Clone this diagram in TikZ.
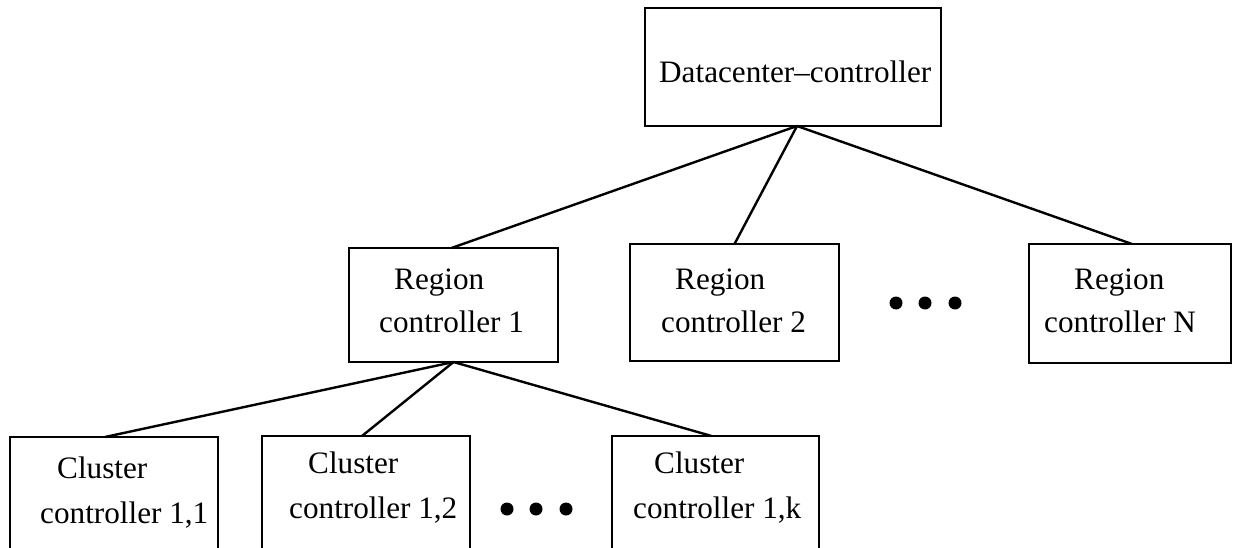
\documentclass[tikz,border=0pt]{standalone}
\usepackage{fontspec}
\setmainfont{Liberation Serif}
\tikzset{
  ctrl/.style={draw, line width=2.6pt, inner sep=0pt, outer sep=0pt, anchor=north west},
  lbl/.style={inner sep=0pt, anchor=base west, font=\fontsize{31.2}{36}\selectfont},
  link/.style={line width=2.4pt},
}
\begin{document}
\begin{tikzpicture}[x=1pt,y=-1pt]
\clip (0,0) rectangle (1233,548);
% datacenter
\node[ctrl, minimum width=296pt, minimum height=118pt] (dc) at (645,8) {};
\node[lbl] (dct) at (659,83) {Datacenter–controller};
\coordinate (dcb) at ([xshift=4pt]dc.south);
% regions
\node[ctrl, minimum width=209pt, minimum height=114pt] (r1) at (349,248) {};
\node[lbl] (r1a) at (394,289) {Region};
\node[lbl] (r1b) at (379,332) {controller 1};
\node[ctrl, minimum width=209pt, minimum height=117pt] (r2) at (630,244) {};
\node[lbl] (r2a) at (675,289) {Region};
\node[lbl] (r2b) at (661,332) {controller 2};
\node[ctrl, minimum width=202pt, minimum height=119pt] (rN) at (1029,244) {};
\node[lbl] (rNa) at (1074,289) {Region};
\node[lbl] (rNb) at (1044,332) {controller N};
\foreach \x in {896,925,955}
  \fill (\x,303) circle (6.5pt);
% clusters
\node[ctrl, minimum width=208pt, minimum height=130pt] (c11) at (10,437) {};
\node[lbl] (c11a) at (57,478) {Cluster};
\node[lbl] (c11b) at (40,523) {controller 1,1};
\node[ctrl, minimum width=208pt, minimum height=130pt] (c12) at (262,436) {};
\node[lbl] (c12a) at (308,473) {Cluster};
\node[lbl] (c12b) at (289,518) {controller 1,2};
\node[ctrl, minimum width=207pt, minimum height=130pt] (c1k) at (612,436) {};
\node[lbl] (c1ka) at (654,473) {Cluster};
\node[lbl] (c1kb) at (633,518) {controller 1,k};
\foreach \x in {507,536,566}
  \fill (\x,509) circle (6.5pt);
% links
\draw[link] (dcb) -- ([xshift=-2pt]r1.north);
\draw[link] (dcb) -- (r2.north);
\draw[link] (dcb) -- ([xshift=2pt]rN.north);
\draw[link] (r1.south) -- ([xshift=-9pt]c11.north);
\draw[link] (r1.south) -- ([xshift=-4pt]c12.north);
\draw[link] (r1.south) -- ([xshift=-4pt]c1k.north);
\end{tikzpicture}
\end{document}
